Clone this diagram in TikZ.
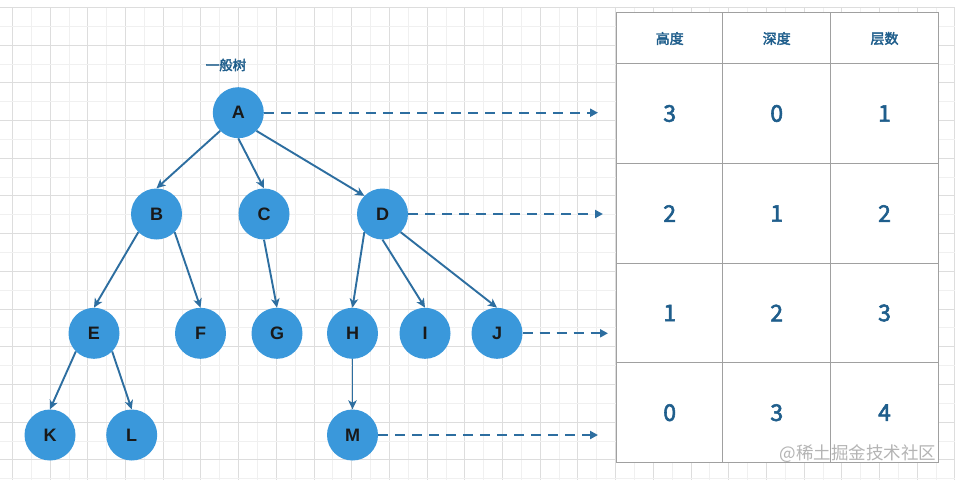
\documentclass[tikz,border=0pt]{standalone}
\usepackage{fontspec}
\setmainfont{Liberation Sans}
\newfontfamily\cjk{Noto Sans CJK SC}
\newfontfamily\cjkm[FakeBold=2.5]{Noto Sans CJK SC}
\usetikzlibrary{arrows.meta}
\definecolor{nodefill}{HTML}{3A98DB}
\definecolor{edgecol}{HTML}{2D6EA0}
\definecolor{txtblue}{HTML}{1F5E8C}
\definecolor{gridminor}{HTML}{F0F0F0}
\definecolor{gridmajor}{HTML}{DDDDDD}
\definecolor{tabline}{HTML}{A0A0A0}
\definecolor{wmark}{HTML}{B4B4B4}
\begin{document}
\begin{tikzpicture}[x=1pt,y=-1pt,
 treenode/.style={circle, fill=nodefill, minimum size=51pt, inner sep=0pt, text=black!90, font=\fontsize{18}{18}\selectfont\bfseries},
 edge/.style={draw=edgecol, line width=1.9pt, -{Stealth[length=9pt,width=8.5pt,inset=2.5pt]}},
 levelarrow/.style={draw=edgecol, line width=2pt, dash pattern=on 10pt off 7pt, -{Triangle[length=8pt,width=8pt]}},
 tabrule/.style={draw=tabline, line width=0.9pt},
 hdr/.style={font=\cjkm\fontsize{14}{14}\selectfont, text=txtblue, inner sep=0pt},
 num/.style={font=\cjkm\fontsize{23}{23}\selectfont, text=txtblue, inner sep=0pt}]

\useasboundingbox (0,0) rectangle (955,480);
\fill[white] (0,0) rectangle (955,480);
% grid
\foreach \k in {0,...,50}{
  \pgfmathsetmacro\gx{12.3+18.85*\k}
  \pgfmathtruncatemacro\ev{mod(\k,2)}
  \ifnum\ev=0 \draw[gridmajor,line width=0.8pt] (\gx,7.3) -- (\gx,480);
  \else \draw[gridminor,line width=0.7pt] (\gx,7.3) -- (\gx,480); \fi
}
\foreach \k in {0,...,25}{
  \pgfmathsetmacro\gy{7.3+18.85*\k}
  \pgfmathtruncatemacro\ev{mod(\k,2)}
  \ifnum\ev=0 \draw[gridmajor,line width=0.8pt] (0,\gy) -- (955,\gy);
  \else \draw[gridminor,line width=0.7pt] (0,\gy) -- (955,\gy); \fi
}

% table
\fill[white] (616.7,12.7) rectangle (938.3,462.3);
\draw[tabrule] (616.7,12.7) rectangle (938.3,462.3);
\foreach \yy in {63.3,163.3,263,362.3} \draw[tabrule] (616.7,\yy) -- (938.3,\yy);
\foreach \xx in {722.7,830.7} \draw[tabrule] (\xx,12.7) -- (\xx,462.3);

\node[hdr] (h1) at (669.7,38.5) {高度};
\node[hdr] (h2) at (776.7,38.5) {深度};
\node[hdr] (h3) at (884.5,38.5) {层数};

\node[num] (r1a) at (669.7,113.5) {3};
\node[num] (r1b) at (776.7,113.5) {0};
\node[num] (r1c) at (884.5,113.5) {1};
\node[num] (r2a) at (669.7,213.5) {2};
\node[num] (r2b) at (776.7,213.5) {1};
\node[num] (r2c) at (884.5,213.5) {2};
\node[num] (r3a) at (669.7,313) {1};
\node[num] (r3b) at (776.7,313) {2};
\node[num] (r3c) at (884.5,313) {3};
\node[num] (r4a) at (669.7,412.7) {0};
\node[num] (r4b) at (776.7,412.7) {3};
\node[num] (r4c) at (884.5,412.7) {4};

% title
\node[font=\cjkm\fontsize{13.5}{13.5}\selectfont, text=txtblue] (title) at (226,65) {一般树};

% tree nodes
\node[treenode] (A) at (238.3,112.7) {A};
\node[treenode] (B) at (156.5,214) {B};
\node[treenode] (C) at (264,214) {C};
\node[treenode] (D) at (382.5,214) {D};
\node[treenode] (E) at (94,333.3) {E};
\node[treenode] (F) at (200.5,333.3) {F};
\node[treenode] (G) at (277,333.3) {G};
\node[treenode] (H) at (352.5,333.3) {H};
\node[treenode] (I) at (425,333.3) {I};
\node[treenode] (J) at (497,333.3) {J};
\node[treenode] (K) at (50,435) {K};
\node[treenode] (L) at (131.7,435) {L};
\node[treenode] (M) at (352.5,435) {M};

\draw[edge] (A.south west) -- (B.north);
\draw[edge] (A.south) -- (C.north);
\draw[edge] (A.south east) -- (D.north west);
\draw[edge] (B.south west) -- (E.north);
\draw[edge] (B.south east) -- (F.north);
\draw[edge] (C.south) -- (G.north);
\draw[edge] (D.south west) -- (H.north);
\draw[edge] (D.south) -- (I.north);
\draw[edge] (D.south east) -- (J.north);
\draw[edge] (E.south west) -- (K.north);
\draw[edge] (E.south east) -- (L.north);
\draw[edge] (H.south) -- (M.north);

% level arrows
\coordinate (tA) at (598,112.7);
\coordinate (tD) at (603,214);
\coordinate (tJ) at (608,333.3);
\coordinate (tM) at (598,435);
\draw[levelarrow] (A.east) -- (tA);
\draw[levelarrow] (D.east) -- (tD);
\draw[levelarrow] (J.east) -- (tJ);
\draw[levelarrow] (M.east) -- (tM);

% watermark
\node[font=\cjk\fontsize{17.5}{17.5}\selectfont, text=wmark, inner sep=0pt] (wm) at (858,454) {@稀土掘金技术社区};
\end{tikzpicture}
\end{document}
